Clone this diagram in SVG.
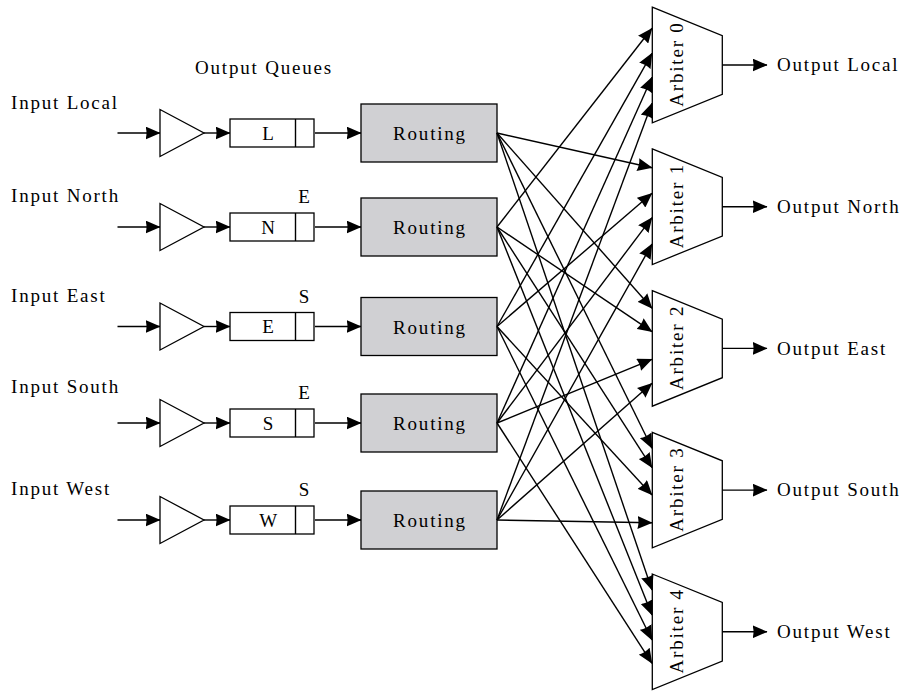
<svg xmlns="http://www.w3.org/2000/svg" width="907" height="691" viewBox="0 0 907 691">
<defs>
<style>
text{font-family:"Liberation Serif","Times New Roman",serif;font-size:19px;letter-spacing:1.8px;fill:#000}
.ln{stroke:#000;stroke-width:1.4;fill:none}
.sh{stroke:#000;stroke-width:1.3;fill:#fff}
.rt{stroke:#000;stroke-width:1.3;fill:#d0d0d3}
.mid{text-anchor:middle}
</style>
<marker id="ah" viewBox="0 0 15 13" refX="14.5" refY="6.5" markerWidth="15" markerHeight="13" markerUnits="userSpaceOnUse" orient="auto">
<path d="M0,0 L15,6.5 L0,13 Q2,6.5 0,0 Z" fill="#000"/>
</marker>
</defs>
<rect width="907" height="691" fill="#fff"/>
<text x="195" y="74">Output Queues</text>

<g id="input-local">
<text x="11" y="108.5">Input Local</text>
<line class="ln" x1="117.5" y1="133" x2="160" y2="133" marker-end="url(#ah)"/>
<polygon class="sh" points="160,109.5 160,156.5 204,133"/>
<line class="ln" x1="204" y1="133" x2="230" y2="133" marker-end="url(#ah)"/>
<rect class="sh" x="230" y="119" width="84" height="28"/>
<line class="ln" x1="295.5" y1="119" x2="295.5" y2="147"/>
<text class="mid" x="269" y="139.5">L</text>
<line class="ln" x1="315" y1="133" x2="361" y2="133" marker-end="url(#ah)"/>
</g>
<g id="routing-0"><rect class="rt" x="361" y="104" width="136" height="58"/><text class="mid" x="430" y="140">Routing</text></g>

<g id="input-north">
<text x="11" y="201.5">Input North</text>
<line class="ln" x1="117.5" y1="227" x2="160" y2="227" marker-end="url(#ah)"/>
<polygon class="sh" points="160,203.5 160,250.5 204,227"/>
<line class="ln" x1="204" y1="227" x2="230" y2="227" marker-end="url(#ah)"/>
<rect class="sh" x="230" y="213" width="84" height="28"/>
<line class="ln" x1="295.5" y1="213" x2="295.5" y2="241"/>
<text class="mid" x="269" y="233.5">N</text>
<text class="mid" x="305" y="203">E</text>
<line class="ln" x1="315" y1="227" x2="361" y2="227" marker-end="url(#ah)"/>
</g>
<g id="routing-1"><rect class="rt" x="361" y="198" width="136" height="58"/><text class="mid" x="430" y="234">Routing</text></g>

<g id="input-east">
<text x="11" y="301.5">Input East</text>
<line class="ln" x1="117.5" y1="326.5" x2="160" y2="326.5" marker-end="url(#ah)"/>
<polygon class="sh" points="160,303 160,350 204,326.5"/>
<line class="ln" x1="204" y1="326.5" x2="230" y2="326.5" marker-end="url(#ah)"/>
<rect class="sh" x="230" y="312.5" width="84" height="28"/>
<line class="ln" x1="295.5" y1="312.5" x2="295.5" y2="340.5"/>
<text class="mid" x="269" y="333">E</text>
<text class="mid" x="305" y="302.5">S</text>
<line class="ln" x1="315" y1="326.5" x2="361" y2="326.5" marker-end="url(#ah)"/>
</g>
<g id="routing-2"><rect class="rt" x="361" y="297.5" width="136" height="58"/><text class="mid" x="430" y="333.5">Routing</text></g>

<g id="input-south">
<text x="11" y="393">Input South</text>
<line class="ln" x1="117.5" y1="423" x2="160" y2="423" marker-end="url(#ah)"/>
<polygon class="sh" points="160,399.5 160,446.5 204,423"/>
<line class="ln" x1="204" y1="423" x2="230" y2="423" marker-end="url(#ah)"/>
<rect class="sh" x="230" y="409" width="84" height="28"/>
<line class="ln" x1="295.5" y1="409" x2="295.5" y2="437"/>
<text class="mid" x="269" y="429.5">S</text>
<text class="mid" x="305" y="399">E</text>
<line class="ln" x1="315" y1="423" x2="361" y2="423" marker-end="url(#ah)"/>
</g>
<g id="routing-3"><rect class="rt" x="361" y="394" width="136" height="58"/><text class="mid" x="430" y="430">Routing</text></g>

<g id="input-west">
<text x="11" y="495">Input West</text>
<line class="ln" x1="117.5" y1="520" x2="160" y2="520" marker-end="url(#ah)"/>
<polygon class="sh" points="160,496.5 160,543.5 204,520"/>
<line class="ln" x1="204" y1="520" x2="230" y2="520" marker-end="url(#ah)"/>
<rect class="sh" x="230" y="506" width="84" height="28"/>
<line class="ln" x1="295.5" y1="506" x2="295.5" y2="534"/>
<text class="mid" x="269" y="526.5">W</text>
<text class="mid" x="305" y="496">S</text>
<line class="ln" x1="315" y1="520" x2="361" y2="520" marker-end="url(#ah)"/>
</g>
<g id="routing-4"><rect class="rt" x="361" y="491" width="136" height="58"/><text class="mid" x="430" y="527">Routing</text></g>

<g id="arbiter-0">
<polygon class="sh" points="652.3,7.2 722.3,35.7 722.3,94.3 652.3,122.8"/>
<text class="mid" transform="translate(683,64) rotate(-90)">Arbiter 0</text>
<line class="ln" x1="722.3" y1="65" x2="767" y2="65" marker-end="url(#ah)"/>
<text x="777" y="71.3">Output Local</text>
</g>
<g id="arbiter-1">
<polygon class="sh" points="652.3,148.9 722.3,177.4 722.3,236 652.3,264.5"/>
<text class="mid" transform="translate(683,205.7) rotate(-90)">Arbiter 1</text>
<line class="ln" x1="722.3" y1="206.7" x2="767" y2="206.7" marker-end="url(#ah)"/>
<text x="777" y="213">Output North</text>
</g>
<g id="arbiter-2">
<polygon class="sh" points="652.3,290.6 722.3,319.1 722.3,377.7 652.3,406.2"/>
<text class="mid" transform="translate(683,347.4) rotate(-90)">Arbiter 2</text>
<line class="ln" x1="722.3" y1="348.4" x2="767" y2="348.4" marker-end="url(#ah)"/>
<text x="777" y="354.7">Output East</text>
</g>
<g id="arbiter-3">
<polygon class="sh" points="652.3,432.3 722.3,460.8 722.3,519.4 652.3,547.9"/>
<text class="mid" transform="translate(683,489.1) rotate(-90)">Arbiter 3</text>
<line class="ln" x1="722.3" y1="490.1" x2="767" y2="490.1" marker-end="url(#ah)"/>
<text x="777" y="496.4">Output South</text>
</g>
<g id="arbiter-4">
<polygon class="sh" points="652.3,574 722.3,602.5 722.3,661.1 652.3,689.6"/>
<text class="mid" transform="translate(683,630.8) rotate(-90)">Arbiter 4</text>
<line class="ln" x1="722.3" y1="631.8" x2="767" y2="631.8" marker-end="url(#ah)"/>
<text x="777" y="638.1">Output West</text>
</g>

<g id="connectors" class="ln" marker-end="url(#ah)">
<line x1="497" y1="133" x2="652" y2="167.7"/>
<line x1="497" y1="133" x2="652" y2="308.3"/>
<line x1="497" y1="133" x2="652" y2="448.3"/>
<line x1="497" y1="133" x2="652" y2="590"/>
<line x1="497" y1="227" x2="652" y2="28.3"/>
<line x1="497" y1="227" x2="652" y2="331.7"/>
<line x1="497" y1="227" x2="652" y2="467.7"/>
<line x1="497" y1="227" x2="652" y2="615"/>
<line x1="497" y1="326.5" x2="652" y2="53.3"/>
<line x1="497" y1="326.5" x2="652" y2="193.3"/>
<line x1="497" y1="326.5" x2="652" y2="495"/>
<line x1="497" y1="326.5" x2="652" y2="640"/>
<line x1="497" y1="423" x2="652" y2="77.3"/>
<line x1="497" y1="423" x2="652" y2="217.7"/>
<line x1="497" y1="423" x2="652" y2="359.3"/>
<line x1="497" y1="423" x2="652" y2="663.3"/>
<line x1="497" y1="520" x2="652" y2="103.3"/>
<line x1="497" y1="520" x2="652" y2="244"/>
<line x1="497" y1="520" x2="652" y2="383.3"/>
<line x1="497" y1="520" x2="652" y2="522.7"/>
</g>
</svg>
